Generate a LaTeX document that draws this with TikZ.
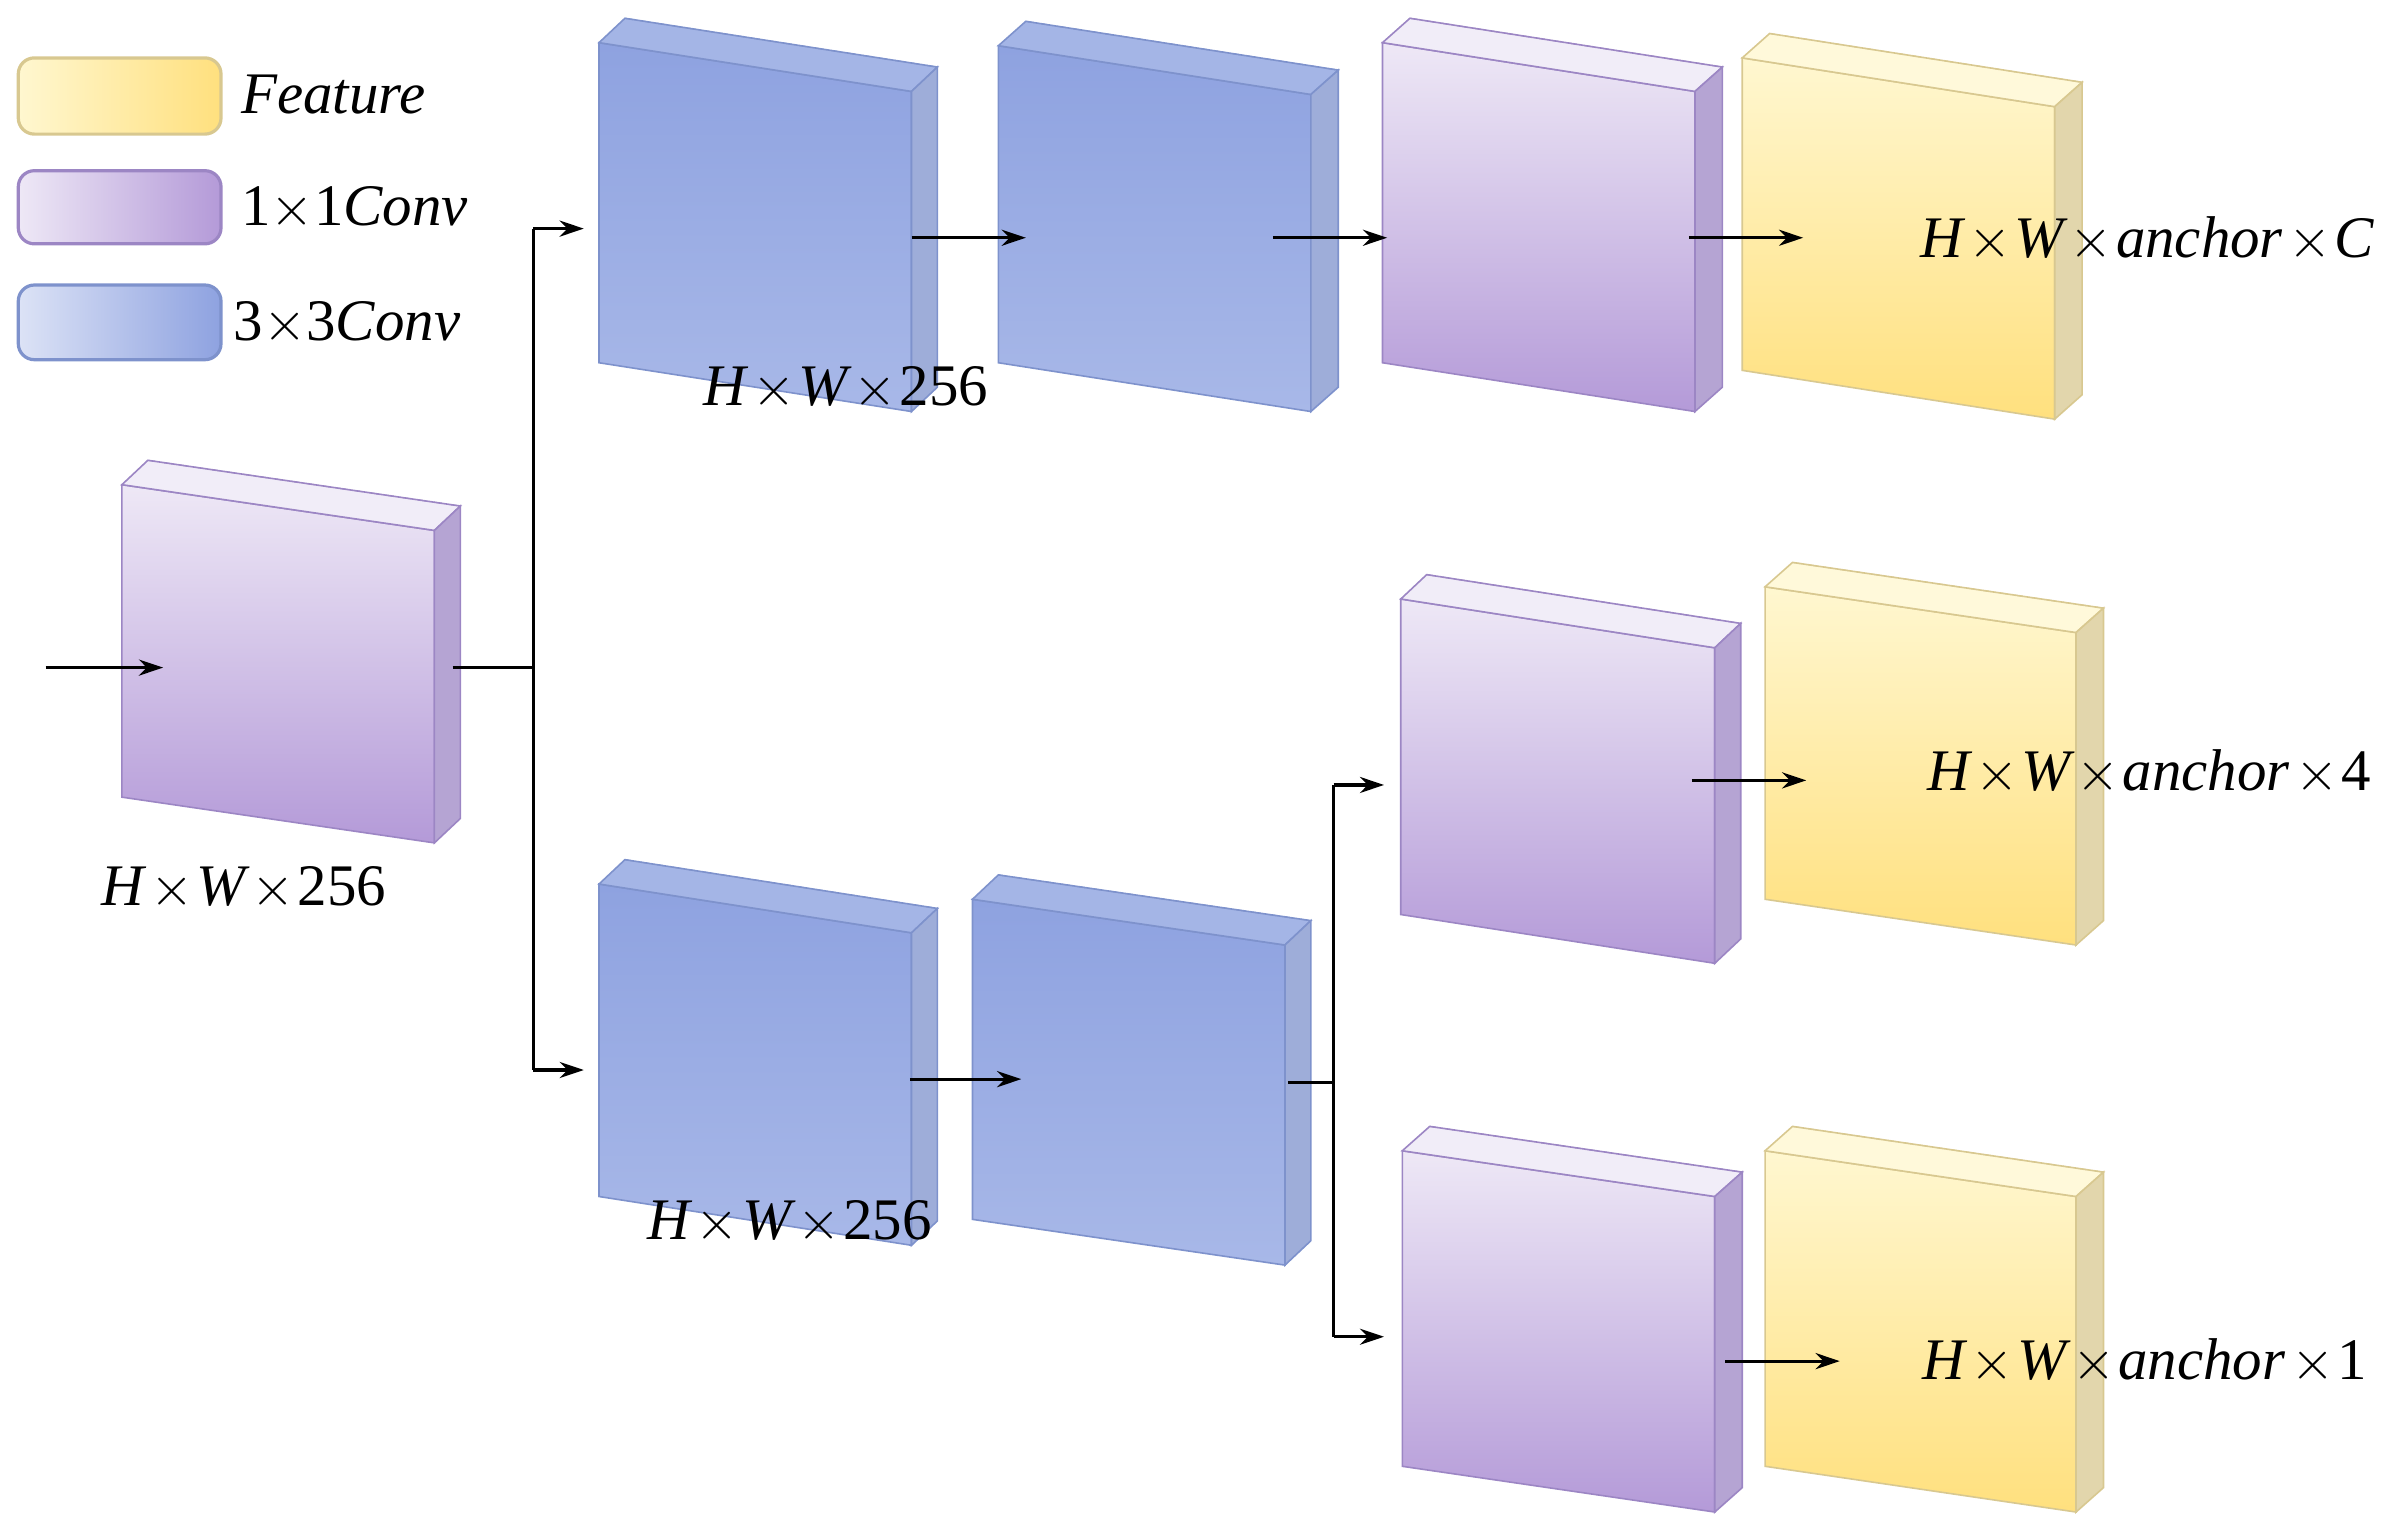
\documentclass[tikz,border=0pt]{standalone}
\usepackage{fontspec}
\setmainfont{Liberation Serif}
\usetikzlibrary{arrows.meta}
\newcommand{\slab}[9]{%
 \def\L{#1}\def\T{#2}\def\W{#3}\def\H{#4}\def\D{#5}\def\d{#6}%
 \shade[top color=#7,bottom color=#8,draw=#9,line width=0.6pt]
  ({\L},{1010-\T}) -- ({\L+\W},{1010-\T-\D}) -- ({\L+\W},{1010-\T-\D-\H}) -- ({\L},{1010-\T-\H}) -- cycle;
 \fill[#7!80!white,draw=#9,line width=0.6pt]
  ({\L},{1010-\T}) -- ({\L+\d},{1010-\T+16}) -- ({\L+\W+\d},{1010-\T-\D+16}) -- ({\L+\W},{1010-\T-\D}) -- cycle;
 \draw[#9,dashed,line width=0.4pt] ({\L+\d},{1010-\T+16}) -- ({\L+\W+\d},{1010-\T-\D+16});
 \fill[#9!75!white,draw=#9,line width=0.6pt]
  ({\L+\W},{1010-\T-\D}) -- ({\L+\W+\d},{1010-\T-\D+16}) -- ({\L+\W+\d},{1010-\T-\D-\H+16}) -- ({\L+\W},{1010-\T-\D-\H}) -- cycle;
}
\newcommand{\tx}{\hspace{0.1em}$\times$\hspace{0.05em}}
\definecolor{pT}{HTML}{EEE8F6}\definecolor{pB}{HTML}{B49AD8}\definecolor{pS}{HTML}{9C86C4}
\definecolor{bT}{HTML}{8EA2E0}\definecolor{bB}{HTML}{A8B8E8}\definecolor{bS}{HTML}{7E92CC}
\definecolor{yT}{HTML}{FFF7D0}\definecolor{yB}{HTML}{FFE07E}\definecolor{yS}{HTML}{D8C890}
\tikzset{arr/.style={-{Stealth[length=9pt,width=6pt]},line width=1.2pt},
 ln/.style={line width=1.2pt},
 lab/.style={font=\fontsize{22}{26}\selectfont\itshape,inner sep=0},
 leg/.style={rounded corners=6pt,draw=#1,line width=1.2pt}}
\begin{document}
\begin{tikzpicture}[x=0.02cm,y=0.02cm]
\useasboundingbox (0,0) rectangle (1568,1010);
% legend
\shade[leg=yS,left color=yT,right color=yB] (12,{1010-38}) rectangle (145,{1010-88});
\shade[leg=pS,left color=pT,right color=pB] (12,{1010-112}) rectangle (145,{1010-160});
\shade[leg=bS,left color=white!60!bB,right color=bT] (12,{1010-187}) rectangle (145,{1010-236});
\node[lab,anchor=west] (lf) at (158,{1010-62}) {Feature};
\node[lab,anchor=west] (lp) at (158,{1010-137}) {\upshape 1$\times$1\itshape Conv};
\node[lab,anchor=west] (lb) at (153,{1010-212}) {\upshape 3$\times$3\itshape Conv};
% blocks
\slab{80}{318}{205}{205}{30}{17}{pT}{pB}{pS}
\slab{393}{28}{205}{210}{32}{17}{bT}{bB}{bS}
\slab{655}{30}{205}{208}{32}{18}{bT}{bB}{bS}
\slab{907}{28}{205}{210}{32}{18}{pT}{pB}{pS}
\slab{1143}{38}{205}{205}{32}{18}{yT}{yB}{yS}
\slab{393}{580}{205}{205}{32}{17}{bT}{bB}{bS}
\slab{638}{590}{205}{210}{30}{17}{bT}{bB}{bS}
\slab{919}{393}{206}{207}{32}{17}{pT}{pB}{pS}
\slab{1158}{385}{204}{205}{30}{18}{yT}{yB}{yS}
\slab{920}{755}{205}{207}{30}{18}{pT}{pB}{pS}
\slab{1158}{755}{204}{207}{30}{18}{yT}{yB}{yS}
% labels
\node[lab] (t1) at (160,{1010-583}) {H\tx W\tx\upshape 256};
\node[lab] (t2) at (555,{1010-255}) {H\tx W\tx\upshape 256};
\node[lab] (t3) at (518,{1010-802}) {H\tx W\tx\upshape 256};
\node[lab,anchor=east] (t4) at (1558,{1010-157}) {H\tx W\tx anchor\tx C};
\node[lab,anchor=east] (t5) at (1556,{1010-507}) {H\tx W\tx anchor\tx\upshape 4};
\node[lab,anchor=east] (t6) at (1553,{1010-893}) {H\tx W\tx anchor\tx\upshape 1};
% coordinates
\coordinate (i0) at (30,{1010-438}); \coordinate (i1) at (107,{1010-438});
\coordinate (s0) at (297,{1010-438}); \coordinate (s1) at (350,{1010-438});
\coordinate (su) at (350,{1010-150}); \coordinate (sd) at (350,{1010-702});
\coordinate (au) at (383,{1010-150}); \coordinate (ad) at (383,{1010-702});
\coordinate (a1) at (598,{1010-156}); \coordinate (b1) at (673,{1010-156});
\coordinate (a2) at (835,{1010-156}); \coordinate (b2) at (910,{1010-156});
\coordinate (a3) at (1108,{1010-156}); \coordinate (b3) at (1183,{1010-156});
\coordinate (a4) at (597,{1010-708}); \coordinate (b4) at (670,{1010-708});
\coordinate (c0) at (845,{1010-710}); \coordinate (c1) at (875,{1010-710});
\coordinate (cu) at (875,{1010-515}); \coordinate (cd) at (875,{1010-877});
\coordinate (du) at (908,{1010-515}); \coordinate (dd) at (908,{1010-877});
\coordinate (a5) at (1110,{1010-512}); \coordinate (b5) at (1185,{1010-512});
\coordinate (a6) at (1132,{1010-893}); \coordinate (b6) at (1207,{1010-893});
% connectors
\draw[arr] (i0) -- (i1);
\draw[ln] (s0) -- (s1); \draw[ln] (su) -- (sd);
\draw[arr] (su) -- (au); \draw[arr] (sd) -- (ad);
\draw[arr] (a1) -- (b1); \draw[arr] (a2) -- (b2); \draw[arr] (a3) -- (b3);
\draw[arr] (a4) -- (b4);
\draw[ln] (c0) -- (c1); \draw[ln] (cu) -- (cd);
\draw[arr] (cu) -- (du); \draw[arr] (cd) -- (dd);
\draw[arr] (a5) -- (b5); \draw[arr] (a6) -- (b6);
\end{tikzpicture}
\end{document}
